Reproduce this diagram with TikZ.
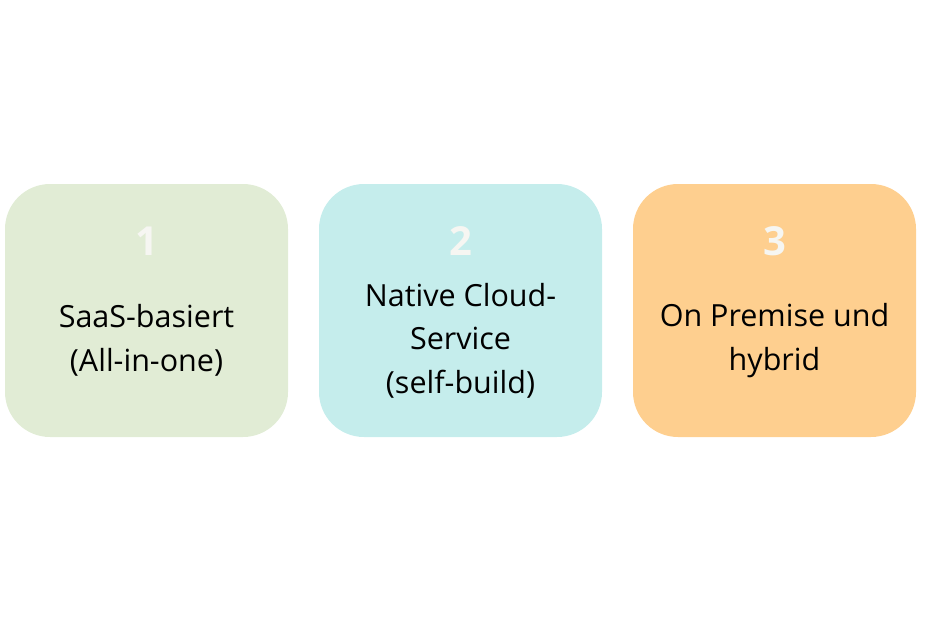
\documentclass[tikz,border=0pt]{standalone}
\usepackage{fontspec}
\setmainfont{Open Sans}
\usetikzlibrary{positioning}

\begin{document}
\begin{tikzpicture}[
    x=1pt, y=1pt,
    box/.style={minimum width=283pt, minimum height=253pt, rounded corners=45pt, inner sep=0pt, outer sep=0pt},
    number/.style={font=\fontsize{40}{40}\selectfont\bfseries, text=numcolor},
    label/.style={align=center, font=\fontsize{30.5}{43.5}\selectfont, text=black}
]

    % Define colors
    \definecolor{saascolor}{HTML}{E1ECD5}
    \definecolor{cloudcolor}{HTML}{C5EDEC}
    \definecolor{premcolor}{HTML}{FECF8F}
    \definecolor{numcolor}{HTML}{F6F6F2}

    \useasboundingbox (0,0) rectangle (931,-621);

    % Boxes
    \node[box, fill=saascolor] (box1) at (146.5,-310.5) {};
    \node[box, fill=cloudcolor, right=31pt of box1] (box2) {};
    \node[box, fill=premcolor, right=31pt of box2] (box3) {};

    % Numbers and labels
    \foreach \i/\txt in {1/{SaaS-basiert\\(All-in-one)}, 2/{Native Cloud-\\Service\\(self-build)}, 3/{On Premise und\\hybrid}} {
        \node[number] (num\i) at ([yshift=-57.5pt]box\i.north) {\i};
        \node[label] (txt\i) at ([yshift=-30pt]box\i.center) {\txt};
    }

\end{tikzpicture}
\end{document}
